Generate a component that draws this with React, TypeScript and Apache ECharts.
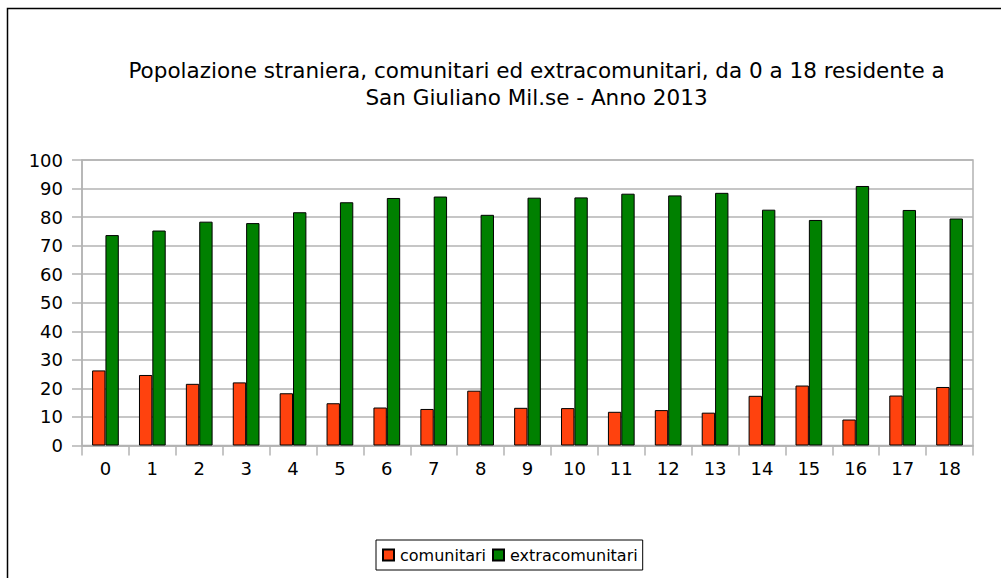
import React, { useEffect, useRef } from "react";
import * as echarts from "echarts";

const categories = ["0","1","2","3","4","5","6","7","8","9","10","11","12","13","14","15","16","17","18"];
const comunitari = [26.3, 24.7, 21.6, 22.1, 18.3, 14.8, 13.3, 12.8, 19.2, 13.2, 13.1, 11.8, 12.4, 11.5, 17.4, 21.0, 9.1, 17.5, 20.5];
const extracomunitari = [73.7, 75.3, 78.4, 77.9, 81.7, 85.2, 86.7, 87.2, 80.8, 86.8, 86.9, 88.2, 87.6, 88.5, 82.6, 79.0, 90.9, 82.5, 79.5];
const yTicks = [0, 10, 20, 30, 40, 50, 60, 70, 80, 90, 100];
const titleLines = [
  "Popolazione straniera, comunitari ed extracomunitari, da 0 a 18 residente a",
  "San Giuliano Mil.se - Anno 2013",
];

const FONT = "DejaVu Sans";

export default function App() {
  const ref = useRef<HTMLDivElement>(null);
  useEffect(() => {
    document.body.style.margin = "0";
    const chart = echarts.init(ref.current!, null, { renderer: "svg" });
    chart.setOption({
      animation: false,
      backgroundColor: "#ffffff",
      textStyle: { fontFamily: FONT },
      graphic: [
        {
          type: "rect",
          shape: { x: 7.5, y: 8.5, width: 1100, height: 700 },
          style: { fill: "none", stroke: "#000", lineWidth: 1.5 },
          silent: true,
        },
        {
          type: "text",
          x: 536.5,
          y: 70,
          style: {
            text: titleLines[0],
            fontSize: 21.5,
            fontFamily: FONT,
            fill: "#000",
            textAlign: "center",
            textVerticalAlign: "middle",
          },
        },
        {
          type: "text",
          x: 536.5,
          y: 97,
          style: {
            text: titleLines[1],
            fontSize: 21.5,
            fontFamily: FONT,
            fill: "#000",
            textAlign: "center",
            textVerticalAlign: "middle",
          },
        },
      ],
      legend: {
        left: 376,
        top: 540,
        orient: "horizontal",
        padding: [7, 5, 7, 6],
        borderColor: "#000",
        borderWidth: 1,
        itemWidth: 11,
        itemHeight: 11,
        itemGap: 6,
        icon: "rect",
        textStyle: { fontSize: 16, fontFamily: FONT, color: "#000", padding: [0, 0, 0, 1] },
        data: ["comunitari", "extracomunitari"],
      },
      grid: {
        left: 82,
        right: 28,
        top: 160,
        bottom: 132.5,
        show: true,
        borderColor: "#b3b3b3",
        borderWidth: 1.5,
        containLabel: false,
      },
      xAxis: {
        type: "category",
        data: categories,
        axisLine: { show: true, lineStyle: { color: "#b3b3b3", width: 1.5 } },
        axisTick: { show: true, length: 10, lineStyle: { color: "#b3b3b3", width: 1.5 } },
        axisLabel: { color: "#000", fontSize: 18, fontFamily: FONT, margin: 14 },
      },
      yAxis: {
        type: "value",
        min: 0,
        max: 100,
        interval: 10,
        axisLine: { show: true, lineStyle: { color: "#b3b3b3", width: 1.5 } },
        axisTick: { show: true, length: 10, lineStyle: { color: "#b3b3b3", width: 1.5 } },
        axisLabel: {
          color: "#000",
          fontSize: 18,
          fontFamily: FONT,
          margin: 19,
          customValues: yTicks,
        },
        splitLine: { show: true, lineStyle: { color: "#b3b3b3", width: 1.5 } },
      },
      series: [
        {
          name: "comunitari",
          type: "bar",
          data: comunitari,
          barGap: "0%",
          barCategoryGap: "43%",
          itemStyle: { color: "#ff420e", borderColor: "#000", borderWidth: 1 },
        },
        {
          name: "extracomunitari",
          type: "bar",
          data: extracomunitari,
          barGap: "0%",
          barCategoryGap: "43%",
          itemStyle: { color: "#008000", borderColor: "#000", borderWidth: 1 },
        },
      ],
    });
    return () => chart.dispose();
  }, []);
  return (
    <div
      ref={ref}
      style={{ position: "fixed", left: 0, top: 0, width: 1001, height: 578 }}
    />
  );
}
